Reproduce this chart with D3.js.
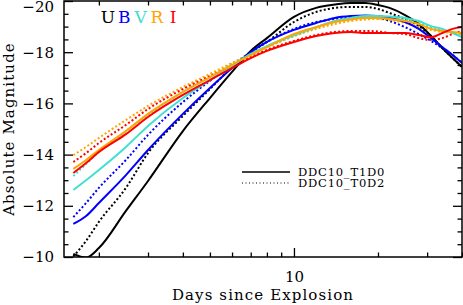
<!DOCTYPE html>
<html>
<head>
<meta charset="utf-8">
<script src="https://cdn.jsdelivr.net/npm/d3@7"></script>
<style>
  html, body { margin: 0; padding: 0; background: #fff; }
  svg { display: block; }
  text { font-family: "DejaVu Serif", serif; fill: #000; }
</style>
</head>
<body>
<svg id="chart" width="463" height="305"></svg>
<script>
// days since explosion at which the curves were read
var days = [1.62, 1.8, 2, 2.5, 3, 4, 5, 6, 7, 8, 10, 12, 14, 16, 18, 20, 22, 25, 28, 31, 34, 37, 40];

// absolute magnitudes, model DDC10_T1D0 (solid)
var U_T1D0 = [-10.12, -9.98, -10.35, -11.8, -12.97, -14.92, -16.21, -17.23, -18.05, -18.55, -19.38, -19.73, -19.86, -19.92, -19.92, -19.84, -19.73, -19.45, -19.1, -18.63, -18.16, -17.77, -17.42];
var B_T1D0 = [-11.29, -11.6, -12.11, -13.2, -14.18, -15.59, -16.6, -17.38, -18.0, -18.4, -18.87, -19.14, -19.34, -19.41, -19.43, -19.41, -19.34, -19.18, -18.91, -18.55, -18.2, -17.89, -17.58];
var V_T1D0 = [-12.62, -13.0, -13.4, -14.3, -15.12, -16.21, -16.91, -17.46, -17.93, -18.24, -18.67, -18.98, -19.22, -19.34, -19.41, -19.41, -19.39, -19.34, -19.22, -19.02, -18.91, -18.75, -18.59];
var R_T1D0 = [-13.44, -13.79, -14.18, -14.92, -15.59, -16.45, -17.03, -17.5, -17.89, -18.2, -18.71, -18.98, -19.18, -19.28, -19.34, -19.34, -19.3, -19.22, -19.1, -18.91, -18.83, -18.79, -18.75];
var I_T1D0 = [-13.28, -13.67, -14.1, -14.8, -15.47, -16.33, -16.91, -17.38, -17.77, -18.05, -18.4, -18.63, -18.75, -18.79, -18.75, -18.75, -18.75, -18.75, -18.67, -18.59, -18.75, -18.91, -18.98];

// absolute magnitudes, model DDC10_T0D2 (dotted)
var U_T0D2 = [-10.02, -10.63, -11.37, -12.7, -14.06, -15.51, -16.56, -17.42, -18.0, -18.4, -19.18, -19.57, -19.73, -19.77, -19.77, -19.69, -19.53, -19.3, -19.02, -18.63, -18.16, -17.77, -17.42];
var B_T0D2 = [-11.56, -12.11, -12.7, -13.79, -14.77, -16.05, -16.88, -17.5, -18.0, -18.4, -18.91, -19.18, -19.3, -19.38, -19.38, -19.34, -19.22, -18.98, -18.71, -18.44, -18.16, -17.89, -17.58];
var V_T0D2 = [-13.16, -13.63, -14.1, -14.92, -15.55, -16.45, -17.03, -17.54, -17.93, -18.2, -18.63, -18.95, -19.18, -19.3, -19.38, -19.38, -19.34, -19.26, -19.14, -18.98, -18.87, -18.75, -18.63];
var R_T0D2 = [-13.98, -14.3, -14.65, -15.35, -15.9, -16.64, -17.15, -17.58, -17.93, -18.2, -18.63, -18.91, -19.1, -19.22, -19.28, -19.3, -19.26, -19.14, -18.98, -18.87, -18.79, -18.75, -18.71];
var I_T0D2 = [-13.71, -14.06, -14.45, -15.16, -15.78, -16.56, -17.07, -17.46, -17.81, -18.09, -18.44, -18.67, -18.79, -18.83, -18.83, -18.81, -18.75, -18.71, -18.55, -18.48, -18.55, -18.71, -18.83];

var bands = ["U", "B", "V", "R", "I"];
var bandColors = ["#000000", "#0000ff", "#40e0d0", "#ffa500", "#ff0000"];
var models = ["DDC10_T1D0", "DDC10_T0D2"];
var yMajorTicks = [-20, -18, -16, -14, -12, -10];
var xMajorTicks = [10];
var xMinorTicks = [2, 3, 4, 5, 6, 7, 8, 9, 20, 30, 40];

var solidSeries = [U_T1D0, B_T1D0, V_T1D0, R_T1D0, I_T1D0];
var dottedSeries = [U_T0D2, B_T0D2, V_T0D2, R_T0D2, I_T0D2];

var plotLeft = 64, plotRight = 462, plotTop = 1, plotBottom = 257;

var svg = d3.select("#chart");

var x = d3.scaleLog().domain([1.5, 40]).range([plotLeft, plotRight]);
var y = d3.scaleLinear().domain([-10, -20]).range([plotBottom, plotTop]);

var yMinorTicks = d3.range(-20, -9.99, 0.5).filter(function(v) { return yMajorTicks.indexOf(v) < 0; });

svg.append("clipPath").attr("id", "plotclip")
  .append("rect")
  .attr("x", plotLeft).attr("y", plotTop)
  .attr("width", plotRight - plotLeft).attr("height", plotBottom - plotTop);

var line = d3.line()
  .x(function(d) { return x(d[0]); })
  .y(function(d) { return y(d[1]); })
  .curve(d3.curveMonotoneX);

var curves = svg.append("g").attr("clip-path", "url(#plotclip)");

function drawSet(series, dotted) {
  series.forEach(function(mags, i) {
    var pts = days.map(function(d, j) { return [d, mags[j]]; });
    curves.append("path")
      .attr("d", line(pts))
      .attr("fill", "none")
      .attr("stroke", bandColors[i])
      .attr("stroke-width", 2)
      .attr("stroke-dasharray", dotted ? "2,2.2" : null);
  });
}
drawSet(dottedSeries, true);
drawSet(solidSeries, false);

// axes, ticks pointing inward on all four sides
function styleAxis(g) {
  g.select(".domain").remove();
  g.selectAll(".tick line").attr("stroke", "#000").attr("stroke-width", 1.3);
  g.selectAll("text").attr("font-size", 15).attr("font-family", "DejaVu Serif");
}

// the -20 label sits a little lower so it stays inside the picture
svg.append("g").attr("transform", "translate(" + plotLeft + ",0)")
  .call(d3.axisLeft(y).tickValues(yMajorTicks).tickSize(-9).tickPadding(10))
  .call(styleAxis)
  .selectAll("text")
  .attr("y", function(d) { return Math.max(0, 7 - y(d)); });

svg.append("g").attr("transform", "translate(" + plotLeft + ",0)")
  .call(d3.axisLeft(y).tickValues(yMinorTicks).tickSize(-4.5).tickFormat(""))
  .call(styleAxis);

svg.append("g").attr("transform", "translate(" + plotRight + ",0)")
  .call(d3.axisRight(y).tickValues(yMajorTicks).tickSize(-9).tickFormat(""))
  .call(styleAxis);
svg.append("g").attr("transform", "translate(" + plotRight + ",0)")
  .call(d3.axisRight(y).tickValues(yMinorTicks).tickSize(-4.5).tickFormat(""))
  .call(styleAxis);

svg.append("g").attr("transform", "translate(0," + plotBottom + ")")
  .call(d3.axisBottom(x).tickValues(xMajorTicks).tickSize(-9).tickPadding(14).tickFormat(d3.format("d")))
  .call(styleAxis);
svg.append("g").attr("transform", "translate(0," + plotBottom + ")")
  .call(d3.axisBottom(x).tickValues(xMinorTicks).tickSize(-4.5).tickFormat(""))
  .call(styleAxis);

svg.append("g").attr("transform", "translate(0," + plotTop + ")")
  .call(d3.axisTop(x).tickValues(xMajorTicks).tickSize(-9).tickFormat(""))
  .call(styleAxis);
svg.append("g").attr("transform", "translate(0," + plotTop + ")")
  .call(d3.axisTop(x).tickValues(xMinorTicks).tickSize(-4.5).tickFormat(""))
  .call(styleAxis);

svg.append("rect")
  .attr("x", plotLeft).attr("y", plotTop)
  .attr("width", plotRight - plotLeft).attr("height", plotBottom - plotTop)
  .attr("fill", "none").attr("stroke", "#000").attr("stroke-width", 1.5);

// axis titles
svg.append("text")
  .attr("x", (plotLeft + plotRight) / 2).attr("y", 300)
  .attr("text-anchor", "middle").attr("font-size", 15)
  .attr("letter-spacing", 1.1)
  .text("Days since Explosion");

svg.append("text")
  .attr("transform", "translate(14," + ((plotTop + plotBottom) / 2) + ") rotate(-90)")
  .attr("text-anchor", "middle").attr("font-size", 15)
  .attr("letter-spacing", 1.1)
  .text("Absolute Magnitude");

// band labels
svg.selectAll(".band")
  .data(bands)
  .enter().append("text")
  .attr("class", "band")
  .attr("x", function(d, i) { return 108 + i * 16.3; })
  .attr("y", 23)
  .attr("text-anchor", "middle")
  .attr("font-size", 17)
  .style("fill", function(d, i) { return bandColors[i]; })
  .text(function(d) { return d; });

// model legend
var legend = svg.append("g").attr("transform", "translate(242,172)");
models.forEach(function(m, i) {
  legend.append("line")
    .attr("x1", 0).attr("x2", 48)
    .attr("y1", i * 11).attr("y2", i * 11)
    .attr("stroke", "#000")
    .attr("stroke-width", i === 0 ? 1.5 : 1)
    .attr("stroke-dasharray", i === 0 ? null : "1,2.5");
  legend.append("text")
    .attr("x", 56).attr("y", i * 11 + 4)
    .attr("font-size", 11.5)
    .attr("letter-spacing", 0.8)
    .text(m);
});
</script>
</body>
</html>
